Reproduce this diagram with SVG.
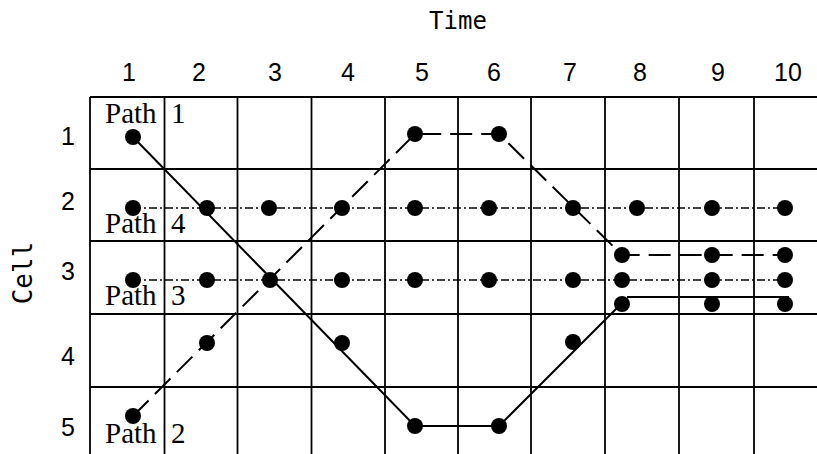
<svg xmlns="http://www.w3.org/2000/svg" width="817" height="454" viewBox="0 0 817 454">
<style>
.grid{stroke:#000;stroke-width:1.8;fill:none}
.lbl{font-family:"Liberation Sans",Arial,sans-serif;font-size:25px;fill:#000;text-anchor:middle}
.mono{font-family:"DejaVu Sans Mono","Liberation Mono",monospace;fill:#000;text-anchor:middle}
.path{font-family:"Liberation Serif","Times New Roman",serif;font-size:29px;fill:#000}
.solid{stroke:#000;stroke-width:2;fill:none}
.dash{stroke:#000;stroke-width:2;fill:none;stroke-dasharray:22 9}
.dashdot{stroke:#000;stroke-width:1.7;fill:none;stroke-dasharray:8 3 2 3}
.dot{fill:#000}
</style>
<rect width="817" height="454" fill="#fff"/>
<g id="grid" class="grid">
<line x1="90" y1="97" x2="817" y2="97"/>
<line x1="90" y1="169" x2="817" y2="169"/>
<line x1="90" y1="241" x2="817" y2="241"/>
<line x1="90" y1="314" x2="817" y2="314"/>
<line x1="90" y1="387" x2="817" y2="387"/>
<line x1="90" y1="97" x2="90" y2="454"/>
<line x1="164.5" y1="97" x2="164.5" y2="454"/>
<line x1="237.5" y1="97" x2="237.5" y2="454"/>
<line x1="311.5" y1="97" x2="311.5" y2="454"/>
<line x1="385" y1="97" x2="385" y2="454"/>
<line x1="458" y1="97" x2="458" y2="454"/>
<line x1="531" y1="97" x2="531" y2="454"/>
<line x1="605" y1="97" x2="605" y2="454"/>
<line x1="679" y1="97" x2="679" y2="454"/>
<line x1="754" y1="97" x2="754" y2="454"/>
</g>
<g id="axis-labels">
<text class="mono" font-size="24" x="458" y="29">Time</text>
<text class="mono" font-size="26" transform="translate(32,273) rotate(-90)" x="0" y="0">Cell</text>
</g>
<g id="time-labels" class="lbl">
<text x="129" y="81">1</text>
<text x="199" y="81">2</text>
<text x="275" y="81">3</text>
<text x="348" y="81">4</text>
<text x="422" y="81">5</text>
<text x="494" y="81">6</text>
<text x="570" y="81">7</text>
<text x="640" y="81">8</text>
<text x="718" y="81">9</text>
<text x="788" y="81">10</text>
</g>
<g id="cell-labels" class="lbl">
<text x="68" y="145">1</text>
<text x="68" y="210">2</text>
<text x="68" y="280">3</text>
<text x="68" y="365">4</text>
<text x="68" y="436">5</text>
</g>
<g id="connectors">
<path id="path1-line" class="solid" d="M133,137 L415,426 L499,426 L622,303 M627,297 L789,297"/>
<path id="path2-line" class="dash" d="M133,416 L415,134 L499,134 L622,255 L785,255"/>
<path id="path4-line" class="dashdot" d="M133,208 L785,208"/>
<path id="path3-line" class="dashdot" d="M133,280 L785,280"/>
</g>
<g id="path1">
<text class="path" x="105" y="123">Path<tspan x="171">1</tspan></text>
<circle class="dot" cx="133" cy="137" r="8"/>
<circle class="dot" cx="207" cy="208" r="8"/>
<circle class="dot" cx="270" cy="280" r="8"/>
<circle class="dot" cx="342" cy="343" r="8"/>
<circle class="dot" cx="415" cy="426" r="8"/>
<circle class="dot" cx="499" cy="426" r="8"/>
<circle class="dot" cx="573" cy="342" r="8"/>
<circle class="dot" cx="622" cy="304" r="8"/>
<circle class="dot" cx="712" cy="304" r="8"/>
<circle class="dot" cx="785" cy="304" r="8"/>
</g>
<g id="path2">
<text class="path" x="105" y="443">Path<tspan x="171">2</tspan></text>
<circle class="dot" cx="133" cy="416" r="8"/>
<circle class="dot" cx="207" cy="343" r="8"/>
<circle class="dot" cx="415" cy="134" r="8"/>
<circle class="dot" cx="499" cy="134" r="8"/>
<circle class="dot" cx="622" cy="255" r="8"/>
<circle class="dot" cx="712" cy="255" r="8"/>
<circle class="dot" cx="785" cy="255" r="8"/>
</g>
<g id="path4">
<text class="path" x="105" y="233">Path<tspan x="171">4</tspan></text>
<circle class="dot" cx="133" cy="208" r="8"/>
<circle class="dot" cx="269" cy="208" r="8"/>
<circle class="dot" cx="342" cy="208" r="8"/>
<circle class="dot" cx="415" cy="208" r="8"/>
<circle class="dot" cx="489" cy="208" r="8"/>
<circle class="dot" cx="573" cy="208" r="8"/>
<circle class="dot" cx="637" cy="208" r="8"/>
<circle class="dot" cx="712" cy="208" r="8"/>
<circle class="dot" cx="785" cy="208" r="8"/>
</g>
<g id="path3">
<text class="path" x="105" y="305">Path<tspan x="171">3</tspan></text>
<circle class="dot" cx="133" cy="280" r="8"/>
<circle class="dot" cx="207" cy="280" r="8"/>
<circle class="dot" cx="342" cy="280" r="8"/>
<circle class="dot" cx="415" cy="280" r="8"/>
<circle class="dot" cx="489" cy="280" r="8"/>
<circle class="dot" cx="573" cy="280" r="8"/>
<circle class="dot" cx="622" cy="280" r="8"/>
<circle class="dot" cx="712" cy="280" r="8"/>
<circle class="dot" cx="785" cy="280" r="8"/>
</g>
</svg>
